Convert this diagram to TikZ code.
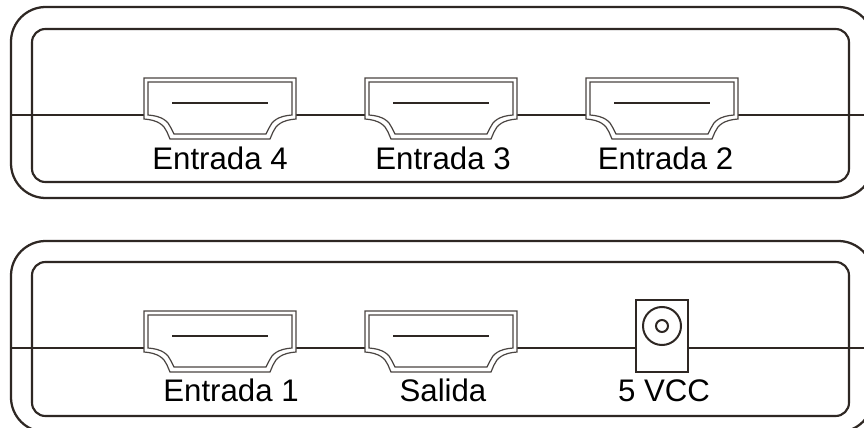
\documentclass[tikz,border=0pt]{standalone}
\usepackage{fontspec}
\setmainfont{Liberation Sans}
\definecolor{ink}{HTML}{2E2723}
\definecolor{edge}{HTML}{4A4542}
\tikzset{x=0.75pt,y=-0.75pt,
  shell/.style={draw=ink,line width=1.7pt,rounded corners=26pt},
  innershell/.style={draw=ink,line width=1.6pt,rounded corners=10pt},
  seam/.style={draw=ink,line width=1.3pt},
  slot/.style={draw=ink,line width=1.9pt},
  portedge/.style={draw=edge,line width=0.9pt},
  jack/.style={draw=ink,line width=1.5pt},
  lab/.style={font=\fontsize{23.4pt}{26pt}\selectfont,text=black,anchor=base,inner sep=0pt}}
\newcommand{\hdmi}[3]{% #1 name, #2 cx, #3 top y
  \begin{scope}[shift={(#2,#3)}]
    \draw[portedge,fill=white] (-76,0) -- (76,0) -- (76,41)
      .. controls (62,42) and (56,47) .. (53,54) -- (50,61) -- (-50,61) -- (-53,54)
      .. controls (-56,47) and (-62,42) .. (-76,41) -- cycle;
    \draw[portedge] (-72,4) -- (72,4) -- (72,37)
      .. controls (58,38) and (52,43) .. (49,50) -- (46,56) -- (-46,56) -- (-49,50)
      .. controls (-52,43) and (-58,38) .. (-72,37) -- cycle;
    \draw[slot] (-48,25) -- (48,25);
  \end{scope}}
\begin{document}
\begin{tikzpicture}
\useasboundingbox (0,0) rectangle (864,428);
\fill[white] (0,0) rectangle (864,428);
% top body
\draw[shell] (11,7) rectangle (873,198);
\draw[innershell] (32,29) rectangle (849,182);
\draw[seam] (11,115) -- (864,115);
\hdmi{a}{220}{78}
\hdmi{b}{441}{78}
\hdmi{c}{662}{78}
\node[lab] (ta) at (220,169.5) {Entrada 4};
\node[lab] (tb) at (443,169.5) {Entrada 3};
\node[lab] (tc) at (665.5,169.5) {Entrada 2};
% bottom body
\draw[shell] (11,241) rectangle (873,432);
\draw[innershell] (32,262) rectangle (849,416);
\draw[seam] (11,348) -- (864,348);
\hdmi{d}{220}{311}
\hdmi{e}{441}{311}
\draw[jack,fill=white] (636,300) rectangle (688,372);
\draw[jack] (662,326) circle[radius=19];
\draw[jack] (662,326) circle[radius=6];
\node[lab] (td) at (231,401.5) {Entrada 1};
\node[lab] (te) at (443,401.5) {Salida};
\node[lab] (tf) at (664,401.5) {5 VCC};
\end{tikzpicture}
\end{document}
